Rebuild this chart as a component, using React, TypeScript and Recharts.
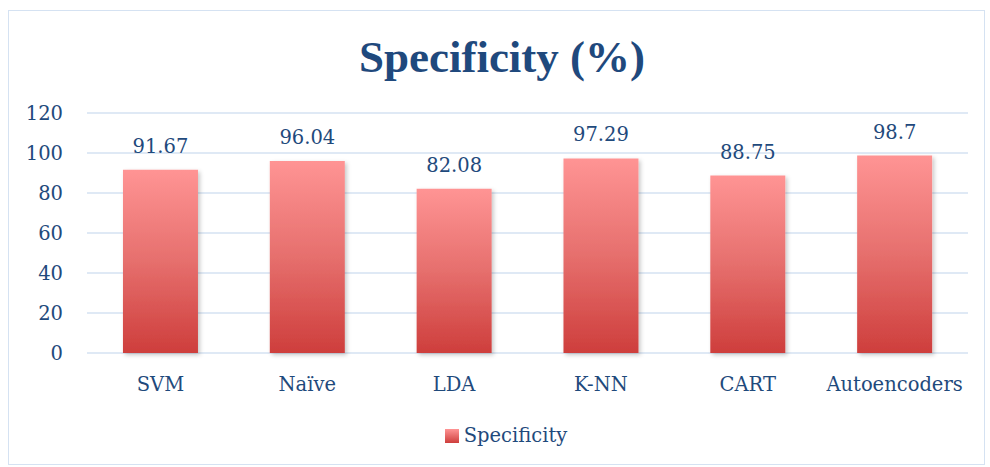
import React from "react"
import { BarChart, Bar, XAxis, YAxis, CartesianGrid, LabelList } from "recharts"

const categories = ["SVM", "Naïve", "LDA", "K-NN", "CART", "Autoencoders"]
const specificity = [91.67, 96.04, 82.08, 97.29, 88.75, 98.7]
const yTicks = [0, 20, 40, 60, 80, 100, 120]

const data = categories.map((name, i) => ({ name, Specificity: specificity[i] }))

const textColor = "#1F4A7C"
const bodyFont = "'DejaVu Serif', serif"
const titleFont = "'Liberation Serif', serif"
const fs = 19.5

function LegendBox() {
  return (
    <div
      style={{
        position: "absolute",
        left: 0,
        top: 424,
        width: 1012,
        display: "flex",
        justifyContent: "center",
        alignItems: "center",
        fontFamily: bodyFont,
        fontSize: fs,
        color: textColor,
      }}
    >
      <svg width={14} height={14} style={{ marginRight: 5 }}>
        <defs>
          <linearGradient id="legGrad" x1="0" y1="0" x2="0" y2="1">
            <stop offset="0%" stopColor="#FF9494" />
            <stop offset="100%" stopColor="#CE3E3C" />
          </linearGradient>
        </defs>
        <rect width={14} height={14} fill="url(#legGrad)" />
      </svg>
      <span>Specificity</span>
    </div>
  )
}

export default function App() {
  return (
    <div style={{ position: "absolute", left: 0, top: 0, width: 990, height: 467, background: "#fff" }}>
      <div
        style={{
          position: "absolute",
          left: 8,
          top: 10,
          width: 977,
          height: 455,
          border: "1.5px solid #D5E2F2",
          boxSizing: "border-box",
        }}
      />
      <svg style={{ position: "absolute", left: 0, top: 0 }} width={990} height={100}>
        <text
          x={502}
          y={72}
          textAnchor="middle"
          fontFamily={titleFont}
          fontWeight="bold"
          fontSize={45}
          fill="#1F497D"
        >
          Specificity (%)
        </text>
      </svg>
      <div style={{ position: "absolute", left: 0, top: 0 }}>
        <BarChart
          width={990}
          height={467}
          data={data}
          margin={{ top: 113, right: 22, bottom: 84, left: 27 }}
          barCategoryGap="24.5%"
        >
          <defs>
            <linearGradient id="barGrad" x1="0" y1="0" x2="0" y2="1">
              <stop offset="0%" stopColor="#FF9494" />
              <stop offset="50%" stopColor="#E66F6D" />
              <stop offset="100%" stopColor="#CE3E3C" />
            </linearGradient>
            <filter id="shadow" x="-10%" y="-10%" width="130%" height="120%">
              <feDropShadow dx={2} dy={2} stdDeviation={2} floodColor="#000" floodOpacity={0.22} />
            </filter>
          </defs>
          <CartesianGrid vertical={false} stroke="#D5E2F2" strokeWidth={1.5} />
          <XAxis
            dataKey="name"
            height={30}
            axisLine={false}
            tickLine={false}
            tickSize={0}
            tickMargin={24}
            tick={{ fill: textColor, fontSize: fs, fontFamily: bodyFont }}
            interval={0}
          />
          <YAxis
            domain={[0, 120]}
            ticks={yTicks}
            width={60}
            axisLine={false}
            tickLine={false}
            tickSize={0}
            tickMargin={24}
            tick={{ fill: textColor, fontSize: fs, fontFamily: bodyFont }}
          />
          <Bar dataKey="Specificity" fill="url(#barGrad)" filter="url(#shadow)" isAnimationActive={false}>
            <LabelList
              dataKey="Specificity"
              position="top"
              offset={17}
              style={{ fill: textColor, fontSize: fs, fontFamily: bodyFont }}
            />
          </Bar>
        </BarChart>
      </div>
      <LegendBox />
    </div>
  )
}
